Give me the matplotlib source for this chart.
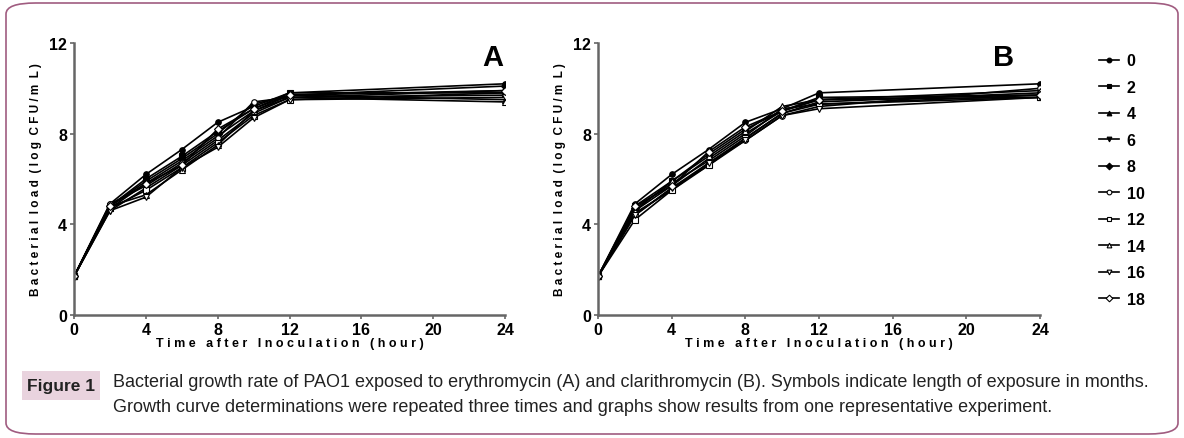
import matplotlib
matplotlib.use("Agg")
import matplotlib.pyplot as plt
from matplotlib.patches import FancyBboxPatch, Rectangle

hours = [0, 2, 4, 6, 8, 10, 12, 24]
months = ["0", "2", "4", "6", "8", "10", "12", "14", "16", "18"]

ery_0 = [1.7, 4.9, 6.2, 7.3, 8.5, 9.2, 9.8, 10.2]
ery_2 = [1.7, 4.8, 6.0, 7.0, 8.1, 9.1, 9.8, 9.8]
ery_4 = [1.7, 4.7, 5.8, 6.8, 7.9, 9.0, 9.7, 9.5]
ery_6 = [1.7, 4.6, 5.6, 6.6, 7.7, 8.9, 9.6, 9.7]
ery_8 = [1.7, 4.8, 5.9, 6.9, 8.0, 9.3, 9.7, 10.1]
ery_10 = [1.7, 4.9, 5.7, 6.7, 7.8, 9.4, 9.6, 9.9]
ery_12 = [1.7, 4.7, 5.5, 6.5, 7.6, 8.8, 9.5, 9.8]
ery_14 = [1.7, 4.8, 5.3, 6.4, 7.5, 9.0, 9.6, 9.4]
ery_16 = [1.7, 4.6, 5.2, 6.5, 7.4, 8.7, 9.5, 9.6]
ery_18 = [1.7, 4.8, 5.8, 6.6, 8.2, 9.1, 9.7, 9.9]

cla_0 = [1.7, 4.9, 6.2, 7.3, 8.5, 9.1, 9.8, 10.2]
cla_2 = [1.7, 4.8, 5.9, 7.1, 8.2, 9.0, 9.6, 9.7]
cla_4 = [1.7, 4.6, 5.7, 6.9, 8.0, 9.0, 9.5, 9.6]
cla_6 = [1.7, 4.5, 5.5, 6.7, 7.8, 8.9, 9.4, 9.8]
cla_8 = [1.7, 4.7, 5.8, 6.8, 7.9, 9.1, 9.3, 9.7]
cla_10 = [1.7, 4.4, 5.6, 6.6, 7.7, 8.8, 9.2, 10.0]
cla_12 = [1.7, 4.2, 5.5, 6.6, 7.8, 8.9, 9.3, 9.6]
cla_14 = [1.7, 4.6, 5.9, 7.0, 8.1, 9.2, 9.5, 9.9]
cla_16 = [1.7, 4.4, 5.6, 6.7, 7.7, 8.8, 9.1, 9.6]
cla_18 = [1.7, 4.8, 5.7, 7.2, 8.3, 9.0, 9.5, 9.7]

ery = [ery_0, ery_2, ery_4, ery_6, ery_8, ery_10, ery_12, ery_14, ery_16, ery_18]
cla = [cla_0, cla_2, cla_4, cla_6, cla_8, cla_10, cla_12, cla_14, cla_16, cla_18]

x_ticks = [0, 4, 8, 12, 16, 20, 24]
y_ticks = [0, 4, 8, 12]

styles = [("o", "k"), ("s", "k"), ("^", "k"), ("v", "k"), ("D", "k"),
          ("o", "w"), ("s", "w"), ("^", "w"), ("v", "w"), ("D", "w")]

sans = ["Liberation Sans", "DejaVu Sans"]

fig = plt.figure(figsize=(11.84, 4.39), dpi=100)

# border
fig.patches.append(FancyBboxPatch((6 / 1184, 4 / 439), 1172 / 1184, 431 / 439,
                                  boxstyle="round,pad=0,rounding_size=0.025",
                                  transform=fig.transFigure, facecolor="none",
                                  edgecolor="#a05c80", lw=1.2))

def panel(rect, data, letter, lx):
    ax = fig.add_axes(rect)
    for ys, (m, fc) in zip(data, styles):
        ax.plot(hours, ys, color="black", lw=1.2, marker=m, markersize=4,
                markerfacecolor=fc, markeredgecolor="black", markeredgewidth=0.8)
    ax.set_xlim(0, 24)
    ax.set_ylim(0, 12)
    ax.set_xticks(x_ticks)
    ax.set_yticks(y_ticks)
    for s in ["top", "right"]:
        ax.spines[s].set_visible(False)
    for s in ["left", "bottom"]:
        ax.spines[s].set_color("#666666")
        ax.spines[s].set_linewidth(1.8)
    ax.tick_params(length=3, width=1.2, color="#666666", labelsize=11.5, pad=2)
    for lab in ax.get_xticklabels() + ax.get_yticklabels():
        lab.set_family(sans)
        lab.set_fontweight("bold")
    ax.set_xlabel("T i m e   a f t e r   I n o c u l a t i o n   ( h o u r )",
                  fontsize=9, fontweight="bold", family=sans, labelpad=0)
    ax.set_ylabel("B a c t e r i a l  l o a d  ( l o g  C F U / m  L )", fontsize=8.5,
                  fontweight="bold", family=sans, labelpad=5)
    ax.text(lx, 11.4, letter, fontsize=21, fontweight="bold", family=sans,
            ha="center", va="center")
    return ax

axA = panel([74 / 1184, 123 / 439, 431 / 1184, 272 / 439], ery, "A", 23.3)
axB = panel([598 / 1184, 123 / 439, 442 / 1184, 272 / 439], cla, "B", 22.0)

handles = axB.get_lines()
leg = fig.legend(handles, months, loc="upper left",
                 bbox_to_anchor=(1085 / 1184, 1 - 40 / 439),
                 frameon=False, handlelength=1.2, handletextpad=0.5,
                 labelspacing=0.72, markerscale=0.85,
                 prop={"family": sans, "weight": "bold", "size": 11.5})

# caption
fig.patches.append(Rectangle((22 / 1184, 1 - 401 / 439), 78 / 1184, 29 / 439,
                             transform=fig.transFigure, facecolor="#e9d3de",
                             edgecolor="none"))
fig.text(61 / 1184, 1 - 387 / 439, "Figure 1", ha="center", va="center",
         fontsize=12.5, fontweight="bold", family=sans, color="#222222")
fig.text(113 / 1184, 1 - 383 / 439,
         "Bacterial growth rate of PAO1 exposed to erythromycin (A) and clarithromycin (B). "
         "Symbols indicate length of exposure in months.",
         ha="left", va="center", fontsize=13, family=sans, color="#222222")
fig.text(113 / 1184, 1 - 408 / 439,
         "Growth curve determinations were repeated three times and graphs show "
         "results from one representative experiment.",
         ha="left", va="center", fontsize=13, family=sans, color="#222222")

fig.savefig("out.png", dpi=100)
